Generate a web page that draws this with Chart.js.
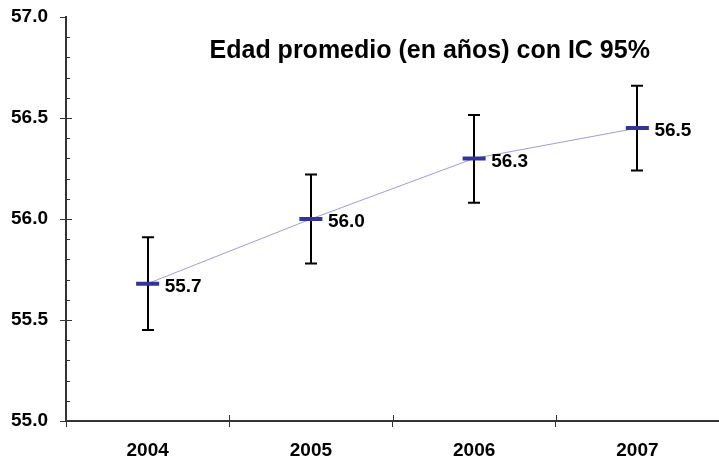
<!DOCTYPE html>
<html>
<head>
<meta charset="utf-8">
<script src="https://cdn.jsdelivr.net/npm/chart.js@4"></script>
<style>
  html, body { margin: 0; padding: 0; background: #fff; }
  #wrap { width: 719px; height: 467px; }
</style>
</head>
<body>
<div id="wrap"><canvas id="ageChart" width="719" height="467"></canvas></div>
<script>
// data
const years = ["2004", "2005", "2006", "2007"];
const meanAge = [55.68, 56.0, 56.3, 56.45];
const ciLow = [55.45, 55.78, 56.08, 56.24];
const ciHigh = [55.91, 56.22, 56.515, 56.66];
const valueLabels = ["55.7", "56.0", "56.3", "56.5"];
const yTicks = [55.0, 55.5, 56.0, 56.5, 57.0];

const titleText = "Edad promedio (en años) con IC 95%";
const FONT = "'Liberation Sans', Arial, Helvetica, sans-serif";
const AXIS_COLOR = "#333";

/* error bars, drawn under the mean markers */
const errorBars = {
  id: "errorBars",
  beforeDatasetsDraw(chart) {
    const { ctx, scales: { x, y } } = chart;
    ctx.save();
    ctx.strokeStyle = "#000";
    ctx.lineWidth = 2;
    years.forEach((yr, i) => {
      const px = Math.round(x.getPixelForValue(i));
      const top = y.getPixelForValue(ciHigh[i]);
      const bot = y.getPixelForValue(ciLow[i]);
      ctx.beginPath();
      ctx.moveTo(px, top);
      ctx.lineTo(px, bot);
      ctx.moveTo(px - 6, top);
      ctx.lineTo(px + 6, top);
      ctx.moveTo(px - 6, bot);
      ctx.lineTo(px + 6, bot);
      ctx.stroke();
    });
    ctx.restore();
  }
};

/* value labels, title and the small ticks */
const extras = {
  id: "extras",
  afterDraw(chart) {
    const { ctx, chartArea, scales: { x, y } } = chart;
    ctx.save();

    ctx.fillStyle = "#000";
    ctx.font = "bold 19px " + FONT;
    ctx.textAlign = "left";
    ctx.textBaseline = "middle";
    meanAge.forEach((v, i) => {
      ctx.fillText(valueLabels[i], x.getPixelForValue(i) + 17, y.getPixelForValue(v) + 3);
    });

    // title
    ctx.font = "bold 25px " + FONT;
    ctx.textAlign = "center";
    ctx.fillText(titleText, chartArea.left + (chartArea.right - chartArea.left) * 0.557, 51);

    // minor ticks every 0.1, major ones poke right of the axis as well
    ctx.strokeStyle = AXIS_COLOR;
    ctx.lineWidth = 1;
    const ax = chartArea.left;
    for (let k = 1; k < 20; k++) {
      const py = Math.round(y.getPixelForValue(55 + k * 0.1)) + 0.5;
      ctx.beginPath();
      ctx.moveTo(ax, py);
      ctx.lineTo(ax + (k % 5 === 0 ? 6 : 4), py);
      ctx.stroke();
    }
    // x ticks poke above the axis too
    const step = x.getPixelForValue(1) - x.getPixelForValue(0);
    for (let k = 0; k < years.length - 1; k++) {
      const px = Math.round(x.getPixelForValue(k) + step / 2) + 0.5;
      ctx.beginPath();
      ctx.moveTo(px, chartArea.bottom - 6);
      ctx.lineTo(px, chartArea.bottom);
      ctx.stroke();
    }
    ctx.restore();
  }
};

new Chart(document.getElementById("ageChart"), {
  type: "line",
  data: {
    labels: years,
    datasets: [{
      data: meanAge,
      borderColor: "#9c9cdc",
      borderWidth: 1,
      pointStyle: "line",
      pointRadius: 11.5,
      pointHoverRadius: 11.5,
      pointBorderWidth: 4,
      pointBorderColor: "#333399",
      pointBackgroundColor: "#333399",
      tension: 0
    }]
  },
  options: {
    responsive: false,
    animation: false,
    events: [],
    layout: { autoPadding: false, padding: { top: 17, right: 0, left: 0, bottom: 0 } },
    plugins: {
      legend: { display: false },
      tooltip: { enabled: false }
    },
    scales: {
      x: {
        offset: true,
        afterFit(scale) { scale.height = 46; },
        border: { color: AXIS_COLOR, width: 2 },
        grid: { offset: true, drawOnChartArea: false, color: AXIS_COLOR, tickLength: 6 },
        ticks: { color: "#000", font: { family: FONT, size: 19, weight: "bold" }, padding: 12 }
      },
      y: {
        min: 55,
        max: 57,
        afterFit(scale) { scale.width = 66; scale.paddingTop = 0; scale.paddingBottom = 0; },
        afterBuildTicks(scale) { scale.ticks = yTicks.map(v => ({ value: v })); },
        border: { color: AXIS_COLOR, width: 2 },
        grid: { drawOnChartArea: false, color: AXIS_COLOR, tickLength: 6 },
        ticks: {
          color: "#000",
          padding: 12,
          font: { family: FONT, size: 19, weight: "bold" },
          callback: v => Number(v).toFixed(1)
        }
      }
    }
  },
  plugins: [errorBars, extras]
});
</script>
</body>
</html>
